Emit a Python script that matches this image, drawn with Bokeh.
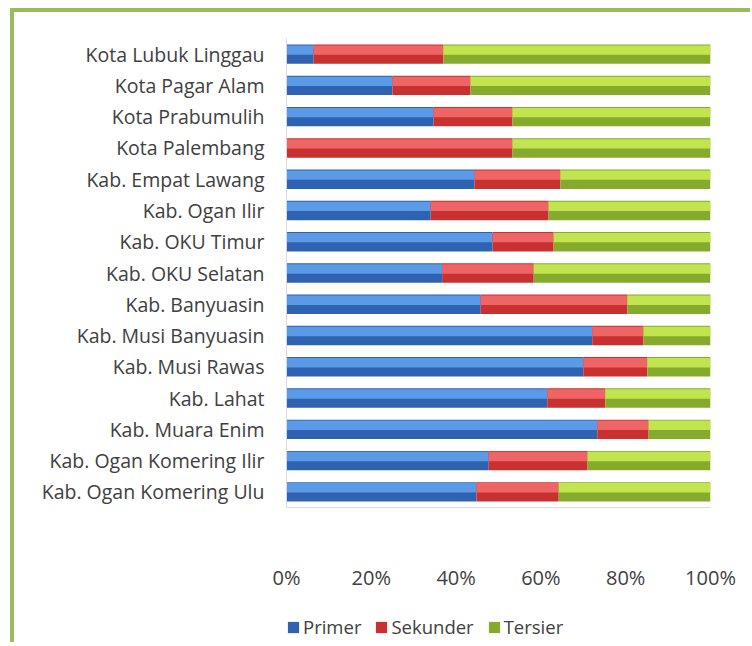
from bokeh.plotting import figure
from bokeh.layouts import column
from bokeh.models import (ColumnDataSource, FactorRange, Range1d, FixedTicker,
                          NumeralTickFormatter, Legend, LegendItem)
from bokeh.transform import dodge
from bokeh.embed import file_html
from bokeh.resources import INLINE

categories = ["Kota Lubuk Linggau", "Kota Pagar Alam", "Kota Prabumulih", "Kota Palembang",
              "Kab. Empat Lawang", "Kab. Ogan Ilir", "Kab. OKU Timur", "Kab. OKU Selatan",
              "Kab. Banyuasin", "Kab. Musi Banyuasin", "Kab. Musi Rawas", "Kab. Lahat",
              "Kab. Muara Enim", "Kab. Ogan Komering Ilir", "Kab. Ogan Komering Ulu"]
primer = [6.4, 25.0, 34.7, 0.0, 44.3, 34.0, 48.6, 36.7, 45.8, 72.1, 70.0, 61.5, 73.3, 47.7, 44.8]
sekunder = [30.6, 18.4, 18.6, 53.3, 20.3, 27.8, 14.4, 21.6, 34.6, 12.1, 15.1, 13.7, 12.1, 23.3, 19.4]
tersier = [63.0, 56.6, 46.7, 46.7, 35.4, 38.2, 37.0, 41.7, 19.6, 15.8, 14.9, 24.8, 14.6, 29.0, 35.8]
series = ["Primer", "Sekunder", "Tersier"]
tick_values = [0, 0.2, 0.4, 0.6, 0.8, 1.0]

FONT = "Open Sans"
TEXT = "#404040"
main_colors = ["#2f62b0", "#c93030", "#86ab2c"]
light_colors = ["#5b9ae6", "#ef6464", "#c2e44e"]

tot = [a + b + c for a, b, c in zip(primer, sekunder, tersier)]
p1 = [a / t for a, t in zip(primer, tot)]
p2 = [(a + b) / t for a, b, t in zip(primer, sekunder, tot)]
src = ColumnDataSource(dict(cat=categories, l0=[0.0] * len(categories), r0=p1,
                            l1=p1, r1=p2, l2=p2, r2=[1.0] * len(categories)))

p = figure(width=736, height=586, y_range=FactorRange(factors=list(reversed(categories))),
           x_range=Range1d(0, 1), output_backend="svg", toolbar_location=None,
           min_border_left=272, min_border_right=40, min_border_top=26, min_border_bottom=91)
p.outline_line_color = None
p.xgrid.grid_line_color = None
p.ygrid.grid_line_color = None

for i in range(3):
    p.hbar(y="cat", left="l%d" % i, right="r%d" % i, height=0.62, source=src,
           fill_color=main_colors[i], line_color=None)
    p.hbar(y=dodge("cat", 0.13, range=p.y_range), left="l%d" % i, right="r%d" % i,
           height=0.3, source=src, fill_color=light_colors[i], line_color=None)

p.xaxis.ticker = FixedTicker(ticks=tick_values)
p.xaxis.formatter = NumeralTickFormatter(format="0%")
for ax in (p.xaxis[0], p.yaxis[0]):
    ax.axis_line_color = "#d9d9d9"
    ax.major_tick_line_color = None
    ax.minor_tick_line_color = None
    ax.major_tick_out = 0
    ax.major_tick_in = 0
    ax.major_label_text_font = FONT
    ax.major_label_text_color = TEXT
p.yaxis.major_label_text_font_size = "19.5px"
p.xaxis.major_label_text_font_size = "20px"
p.xaxis.major_label_standoff = 56
p.yaxis.major_label_standoff = 22

# legend strip below the chart (its frame is aligned with the chart's frame)
leg = figure(width=736, height=44, x_range=Range1d(0, 1), y_range=Range1d(0, 1),
             output_backend="svg", toolbar_location=None, x_axis_location=None,
             y_axis_location=None, min_border=0)
leg.outline_line_color = None
leg.xgrid.grid_line_color = None
leg.ygrid.grid_line_color = None
swatch = ColumnDataSource(dict(y=[-5], left=[-5], right=[-4]))  # off-range, only feeds the legend
leg_renderers = [leg.hbar(y="y", left="left", right="right", height=0.5, source=swatch,
                          fill_color=c, line_color=None) for c in main_colors]
legend = Legend(items=[LegendItem(label=s, renderers=[r]) for s, r in zip(series, leg_renderers)],
                orientation="horizontal", location=(0, 3), padding=0, margin=0,
                spacing=13, label_standoff=3, glyph_width=14, glyph_height=14,
                label_text_font=FONT, label_text_font_size="18.5px", label_text_color=TEXT,
                border_line_color=None, background_fill_alpha=0)
leg.add_layout(legend, "center")

layout = column(p, leg, spacing=0,
                styles={"border-top": "4px solid #9bbb59", "border-left": "4px solid #9bbb59",
                        "margin-left": "10px", "margin-top": "8px"})

open("out.html", "w").write(file_html(layout, INLINE))
